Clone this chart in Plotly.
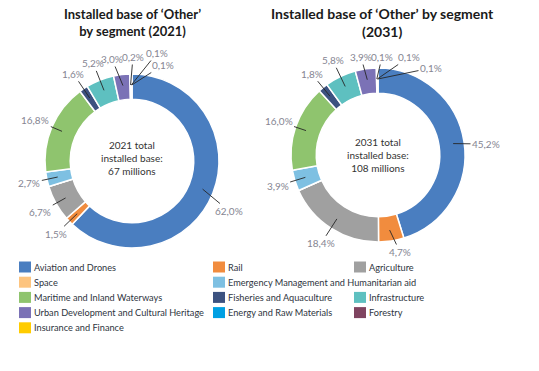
import math
import plotly.graph_objects as go

# ---------------- data ----------------
categories = [
    "Aviation and Drones", "Rail", "Agriculture", "Space",
    "Emergency Management and Humanitarian aid", "Maritime and Inland Waterways",
    "Fisheries and Aquaculture", "Infrastructure",
    "Urban Development and Cultural Heritage", "Energy and Raw Materials",
    "Forestry", "Insurance and Finance",
]
share_2021 = [62.0, 1.5, 6.7, 0.0, 2.7, 16.8, 1.6, 5.2, 3.0, 0.2, 0.1, 0.1]
share_2031 = [45.2, 4.7, 18.4, 0.0, 3.9, 16.0, 1.8, 5.8, 3.9, 0.1, 0.1, 0.1]
titles = ["Installed base of ‘Other’<br>by segment (2021)",
          "Installed base of ‘Other’ by segment<br>(2031)"]
center_texts = ["2021 total<br>installed base:<br>67 millions",
                "2031 total<br>installed base:<br>108 millions"]
colors = ["#4a7ec0", "#f18c3e", "#a0a0a0", "#fdc47f", "#7ec0e2", "#8fc46e",
          "#3c5280", "#5ec0c0", "#7b72b6", "#00a0e3", "#7f4460", "#ffcc00"]

# ---------------- layout / styling ----------------
W, H = 539, 371
FONT = "Lato"
pies = [dict(cx=132, cy=161, r=87), dict(cx=378, cy=155, r=87)]
title_sizes = [13, 14]
HOLE = 0.71
TIP_R = 76        # leader line starts inside the ring (px from centre)
LABEL_R = 105     # default label distance (px from centre)
# manual label offsets (px from pie centre) for crowded slices
label_override = [
    {"Aviation and Drones": (97, 50), "Urban Development and Cultural Heritage": (-20, -102),
     "Energy and Raw Materials": (1, -104), "Forestry": (25, -108),
     "Insurance and Finance": (31, -96)},
    {"Aviation and Drones": (108, -11), "Rail": (22, 97),
     "Urban Development and Cultural Heritage": (-17, -98),
     "Energy and Raw Materials": (4, -98), "Forestry": (31, -98),
     "Insurance and Finance": (53, -87)},
]


def px_to_paper(x, y):
    return x / W, 1 - y / H


fig = go.Figure()
annotations = []

for i, (vals, p) in enumerate(zip([share_2021, share_2031], pies)):
    cx, cy, r = p["cx"], p["cy"], p["r"]
    x0, y0 = px_to_paper(cx - r, cy + r)
    x1, y1 = px_to_paper(cx + r, cy - r)
    fig.add_trace(go.Pie(
        labels=categories, values=vals, sort=False, direction="clockwise",
        rotation=0, hole=HOLE, textinfo="none", hoverinfo="label+percent",
        marker=dict(colors=colors, line=dict(color="white", width=1.5)),
        domain=dict(x=[x0, x1], y=[y0, y1]), showlegend=False,
    ))
    # title
    tx, ty = px_to_paper(cx + (4 if i == 1 else 0), 23)
    annotations.append(dict(x=tx, y=ty, xref="paper", yref="paper", text="<b>" + titles[i] + "</b>",
                            showarrow=False, xanchor="center", yanchor="middle",
                            font=dict(family=FONT, size=title_sizes[i], color="#1a1a1a")))
    # centre text
    ctx, cty = px_to_paper(cx, cy - 3 if i == 0 else cy)
    annotations.append(dict(x=ctx, y=cty, xref="paper", yref="paper", text=center_texts[i],
                            showarrow=False, xanchor="center", yanchor="middle",
                            font=dict(family=FONT, size=10, color="#333333")))
    # percentage labels with leader lines
    total = sum(vals)
    cum = 0.0
    for cat, v in zip(categories, vals):
        if v <= 0:
            continue
        mid = (cum + v / 2) / total * 2 * math.pi
        cum += v
        sx, sy = math.sin(mid), -math.cos(mid)
        tipx, tipy = cx + TIP_R * sx, cy + TIP_R * sy
        if cat in label_override[i]:
            lx, ly = label_override[i][cat]
            lx, ly = cx + lx, cy + ly
        else:
            lx, ly = cx + LABEL_R * sx, cy + LABEL_R * sy
        ax_, ay_ = px_to_paper(tipx, tipy)
        annotations.append(dict(
            x=ax_, y=ay_, xref="paper", yref="paper",
            text=f"{v:.1f}%".replace(".", ","),
            showarrow=True, arrowhead=0, arrowwidth=0.9, arrowcolor="#262626",
            ax=lx - tipx, ay=ly - tipy, axref="pixel", ayref="pixel", standoff=0,
            font=dict(family=FONT, size=10, color="#858592"),
        ))

# ---------------- manual legend ----------------
col_x = [19, 213, 354]
row_y0, row_dy = 267, 15.2
slots = [(0, 0), (0, 1), (0, 2), (1, 0), (1, 1), (2, 0), (2, 1), (2, 2),
         (3, 0), (3, 1), (3, 2), (4, 0)]
shapes = []
for cat, col, (row, c) in zip(categories, colors, slots):
    x = col_x[c]
    y = row_y0 + row * row_dy
    a0, b0 = px_to_paper(x, y - 5.5)
    a1, b1 = px_to_paper(x + 12, y + 5.5)
    shapes.append(dict(type="rect", xref="paper", yref="paper", x0=a0, x1=a1, y0=b1, y1=b0,
                       fillcolor=col, line=dict(width=0)))
    tx, ty = px_to_paper(x + 13, y)
    annotations.append(dict(x=tx, y=ty, xref="paper", yref="paper", text=cat, showarrow=False,
                            xanchor="left", yanchor="middle",
                            font=dict(family=FONT, size=9.2, color="#2e3440")))

fig.update_layout(
    width=W, height=H, margin=dict(l=0, r=0, t=0, b=0),
    paper_bgcolor="white", plot_bgcolor="white",
    annotations=annotations, shapes=shapes, showlegend=False,
    font=dict(family=FONT),
)

fig.write_html("out.html", config={"displayModeBar": False},
               post_script="document.body.style.margin='0px';")
